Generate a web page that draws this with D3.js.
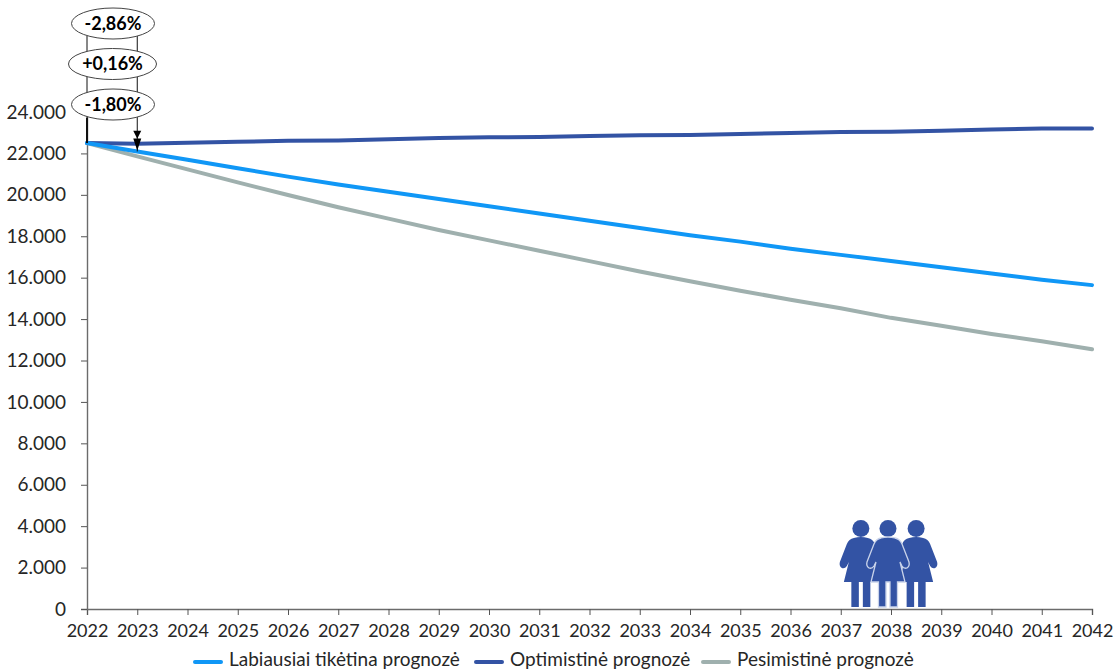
<!DOCTYPE html>
<html>
<head>
<meta charset="utf-8">
<script src="https://d3js.org/d3.v7.min.js"></script>
<style>
  body { margin: 0; background: #fff; }
  text { font-family: Lato, "Open Sans", sans-serif; fill: #262626; }
</style>
</head>
<body>
<div id="chart"></div>
<script>
var years = d3.range(2022, 2043);
var likely = [22500, 22095, 21690, 21280, 20880, 20500, 20150, 19800, 19450, 19100, 18750, 18400, 18050, 17740, 17400, 17100, 16800, 16500, 16200, 15900, 15640];
var optimistic = [22500, 22470, 22510, 22560, 22610, 22620, 22680, 22740, 22780, 22790, 22840, 22880, 22890, 22940, 22990, 23040, 23050, 23100, 23150, 23200, 23200];
var pessimistic = [22500, 21860, 21230, 20600, 19990, 19400, 18850, 18300, 17800, 17300, 16800, 16300, 15830, 15370, 14930, 14520, 14060, 13680, 13280, 12930, 12540];
var seriesNames = ["Labiausiai tikėtina prognozė", "Optimistinė prognozė", "Pesimistinė prognozė"];
var seriesColors = ["#1097F6", "#3353A4", "#9FB0AE"];
var badges = ["-2,86%", "+0,16%", "-1,80%"];
var yTicks = d3.range(0, 24001, 2000);

var width = 1114, height = 672;
var margin = { top: 112, right: 22, bottom: 63, left: 87 };

var svg = d3.select("#chart").append("svg")
  .attr("width", width)
  .attr("height", height)
  .style("display", "block");

var x = d3.scaleLinear().domain([2022, 2042]).range([margin.left, width - margin.right]);
var y = d3.scaleLinear().domain([0, 24000]).range([height - margin.bottom, margin.top]);

// axes
var xAxis = svg.append("g")
  .attr("transform", "translate(0," + y(0) + ")")
  .call(d3.axisBottom(x).tickValues(years).tickFormat(d3.format("d")).tickSize(6).tickPadding(9));
var yAxis = svg.append("g")
  .attr("transform", "translate(" + x(2022) + ",0)")
  .call(d3.axisLeft(y).tickValues(yTicks).tickFormat(function(d) {
    return d3.format(",")(d).replace(",", ".");
  }).tickSize(6).tickPadding(15));

svg.selectAll(".domain").attr("stroke", "#6b6b6b").attr("stroke-width", 1.4);
svg.selectAll(".tick line").attr("stroke", "#555");
svg.selectAll(".tick text").attr("fill", "#262626");
xAxis.selectAll(".tick text").style("font-size", "18px");
yAxis.selectAll(".tick text").style("font-size", "19px");

// people icon
var bodyPath = "M-7,0 Q0,-2 7,0 Q12,1 14,6 L21,24 Q22,28 19,30 Q16,31 14,28 L12,24 L17,44 L9.5,44 L9.5,69 L2,69 L2,44 L-2,44 L-2,69 L-9.5,69 L-9.5,44 L-17,44 L-12,24 L-14,28 Q-16,31 -19,30 Q-22,28 -21,24 L-14,6 Q-12,1 -7,0 Z";
var people = [
  { year: 2037.40, edge: "none" },
  { year: 2038.50, edge: "none" },
  { year: 2037.94, edge: "#c9d3ea" }
];
var person = svg.append("g").selectAll("g")
  .data(people)
  .enter().append("g")
  .attr("transform", function(d) { return "translate(" + x(d.year) + "," + 538 + ")"; });
person.append("circle")
  .attr("cy", -9.5)
  .attr("r", 8.5)
  .attr("fill", "#3353A4");
person.append("path")
  .attr("d", bodyPath)
  .attr("fill", "#3353A4")
  .attr("stroke", function(d) { return d.edge; })
  .attr("stroke-width", 1.3);

// series
var line = d3.line()
  .x(function(d, i) { return x(years[i]); })
  .y(function(d) { return y(d); });

svg.selectAll(".series")
  .data([pessimistic, optimistic, likely])
  .enter().append("path")
  .attr("class", "series")
  .attr("d", line)
  .attr("fill", "none")
  .attr("stroke", function(d, i) { return [seriesColors[2], seriesColors[1], seriesColors[0]][i]; })
  .attr("stroke-width", 4)
  .attr("stroke-linecap", "round");

// connectors and arrows for the 2022-2023 change
svg.append("line")
  .attr("x1", x(2022)).attr("x2", x(2022))
  .attr("y1", 36).attr("y2", y(likely[0]))
  .attr("stroke", "#111").attr("stroke-width", 1);
svg.append("line")
  .attr("x1", x(2022)).attr("x2", x(2022))
  .attr("y1", 118).attr("y2", y(likely[0]))
  .attr("stroke", "#111").attr("stroke-width", 2);
svg.append("line")
  .attr("x1", x(2023)).attr("x2", x(2023))
  .attr("y1", 36).attr("y2", y(likely[1]))
  .attr("stroke", "#111").attr("stroke-width", 1);

[[y(optimistic[1]) - 5, 8], [y(likely[1]) - 1, 12]].forEach(function(a) {
  svg.append("path")
    .attr("d", "M" + (x(2023) - 4) + "," + (a[0] - a[1]) + "L" + (x(2023) + 4) + "," + (a[0] - a[1]) + "L" + x(2023) + "," + a[0] + "Z")
    .attr("fill", "#000");
});

// badges
var badgeG = svg.selectAll(".badge")
  .data(badges)
  .enter().append("g")
  .attr("class", "badge")
  .attr("transform", function(d, i) { return "translate(" + (i == 1 ? 112.5 : 113) + "," + [23.5, 64, 104.5][i] + ")"; });
badgeG.append("ellipse")
  .attr("rx", function(d, i) { return i == 1 ? 44 : 41.5; })
  .attr("ry", 15.5)
  .attr("fill", "#fff")
  .attr("stroke", "#444")
  .attr("stroke-width", 1);
badgeG.append("text")
  .attr("text-anchor", "middle")
  .attr("dy", "0.35em")
  .style("font-size", "18px")
  .style("font-weight", "700")
  .style("fill", "#000")
  .text(function(d) { return d; });

// legend
var legendX = [195, 476, 703];
var legend = svg.selectAll(".legend")
  .data(seriesNames)
  .enter().append("g")
  .attr("class", "legend")
  .attr("transform", function(d, i) { return "translate(" + legendX[i] + ",662)"; });
legend.append("line")
  .attr("x1", 0).attr("x2", 26)
  .attr("stroke", function(d, i) { return seriesColors[i]; })
  .attr("stroke-width", 4)
  .attr("stroke-linecap", "round");
legend.append("text")
  .attr("x", 34)
  .attr("dy", "0.22em")
  .style("font-size", "19px")
  .text(function(d) { return d; });
</script>
</body>
</html>
